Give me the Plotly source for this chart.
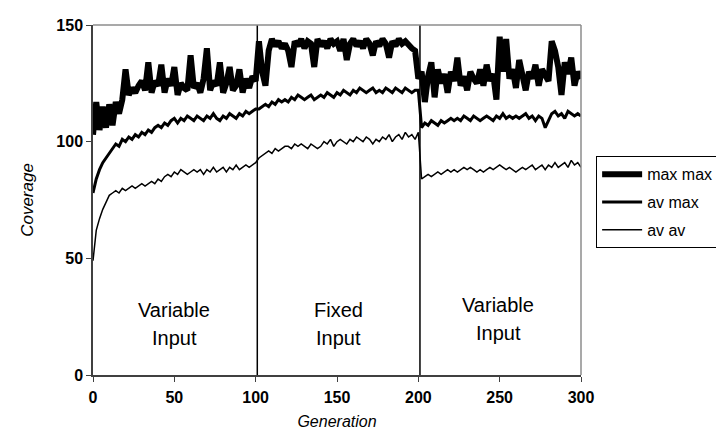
import plotly.graph_objects as go

generation = list(range(0, 301, 2))

max_max = [103, 117, 105, 115, 106, 116, 107, 117, 112, 118, 131,
           120, 123, 121, 124, 126, 122, 134, 121, 126, 124,
           133, 121, 127, 124, 132, 120, 125, 123, 122, 137,
           123, 125, 121, 127, 140, 122, 126, 124, 134, 121,
           125, 132, 122, 124, 131, 121, 127, 123, 128, 126,
           143, 130, 124, 139, 144, 141, 143, 140, 142, 139,
           132, 143, 141, 144, 140, 143, 142, 132, 144, 141,
           143, 140, 144, 142, 143, 139, 144, 135, 142, 144,
           141, 143, 140, 144, 142, 137, 143, 141, 144, 142,
           136, 143, 141, 144, 142, 143, 141, 140, 139, 127,
           130, 117, 128, 134, 119, 131, 125, 129, 121, 130,
           126, 136, 124, 128, 122, 130, 127, 125, 131, 124,
           133, 126, 129, 118, 145, 130, 144, 127, 131, 123,
           135, 129, 122, 130, 127, 133, 124, 131, 128, 126,
           143, 139, 132, 120, 134, 129, 136, 124, 130, 127]

av_max = [78, 84, 88, 91, 93, 95, 97, 99, 98, 101, 100,
          102, 101, 103, 102, 104, 103, 105, 104, 106, 107,
          106, 108, 107, 109, 110, 108, 110, 109, 111, 110,
          109, 111, 110, 109, 111, 110, 112, 110, 109, 111,
          110, 112, 111, 110, 112, 111, 113, 112, 113, 114,
          114, 115, 116, 115, 117, 116, 118, 117, 118, 117,
          119, 118, 120, 119, 118, 119, 120, 118, 119, 120,
          119, 121, 120, 119, 121, 120, 122, 121, 120, 122,
          121, 123, 122, 121, 122, 123, 121, 122, 121, 123,
          122, 121, 123, 122, 121, 123, 122, 121, 122, 122,
          106, 108, 107, 109, 108, 107, 109, 108, 109, 110,
          109, 110, 109, 111, 110, 109, 111, 110, 109, 110,
          111, 110, 109, 111, 110, 112, 110, 111, 110, 111,
          110, 111, 112, 110, 111, 109, 111, 110, 106, 109,
          112, 113, 111, 112, 110, 113, 112, 111, 112, 111]

av_av = [49, 62, 67, 71, 74, 77, 78, 79, 78, 80, 79,
         80, 81, 80, 81, 82, 81, 82, 83, 82, 84,
         83, 85, 86, 85, 87, 86, 88, 87, 86, 87,
         88, 87, 88, 86, 88, 87, 89, 87, 88, 89,
         87, 89, 88, 90, 88, 89, 90, 89, 90, 91,
         93, 94, 95, 96, 95, 97, 96, 97, 98, 98,
         97, 99, 98, 99, 98, 97, 99, 98, 97, 98,
         100, 99, 101, 98, 100, 101, 100, 99, 101, 100,
         102, 101, 100, 102, 101, 99, 101, 100, 102, 101,
         103, 100, 102, 103, 101, 104, 102, 103, 101, 104,
         84, 85, 86, 85, 86, 87, 86, 87, 88, 87,
         88, 87, 88, 89, 88, 89, 88, 87, 88, 87,
         88, 89, 88, 89, 90, 89, 88, 89, 88, 87,
         88, 89, 88, 89, 90, 88, 89, 90, 88, 90,
         89, 91, 89, 90, 91, 89, 92, 90, 91, 89]

phase_boundaries = [101, 201]
phase_labels = [(50, "Variable", "Input"), (151, "Fixed", "Input"), (249, "Variable", "Input")]
x_ticks = [0, 50, 100, 150, 200, 250, 300]
y_ticks = [0, 50, 100, 150]

FONT = "Liberation Sans, Arial, sans-serif"

fig = go.Figure()
fig.add_trace(go.Scatter(x=generation, y=max_max, mode="lines", name="max max",
                         line=dict(color="black", width=6), legendgroup="a"))
fig.add_trace(go.Scatter(x=generation, y=av_max, mode="lines", name="av max",
                         line=dict(color="black", width=3), legendgroup="b"))
fig.add_trace(go.Scatter(x=generation, y=av_av, mode="lines", name="av av",
                         line=dict(color="black", width=1.5), legendgroup="c"))

for b in phase_boundaries:
    fig.add_shape(type="line", x0=b, x1=b, y0=0, y1=150, xref="x", yref="y",
                  line=dict(color="black", width=1.5))

# top and right frame
fig.add_shape(type="line", x0=0, x1=1, y0=1, y1=1, xref="paper", yref="paper",
              line=dict(color="#8c8c8c", width=1.5))
fig.add_shape(type="line", x0=1, x1=1, y0=0, y1=1, xref="paper", yref="paper",
              line=dict(color="#8c8c8c", width=1.5))

for i, (gx, l1, l2) in enumerate(phase_labels):
    yoff = 2 if i == 2 else 0
    fig.add_annotation(x=gx, y=28 + yoff, text=l1, showarrow=False, xref="x", yref="y",
                       font=dict(family=FONT, size=20, color="black"))
    fig.add_annotation(x=gx, y=16 + yoff, text=l2, showarrow=False, xref="x", yref="y",
                       font=dict(family=FONT, size=20, color="black"))

fig.update_layout(
    width=724, height=430,
    margin=dict(l=85, r=151, t=17, b=63, autoexpand=False),
    paper_bgcolor="white", plot_bgcolor="white",
    font=dict(family=FONT, color="black"),
    legend=dict(x=1.031, y=0.625, xanchor="left", yanchor="top",
                bordercolor="black", borderwidth=1, bgcolor="white",
                font=dict(family=FONT, size=16, color="black"),
                tracegroupgap=4, itemwidth=40),
    xaxis=dict(range=[0, 300], tickvals=x_ticks, showgrid=False, zeroline=False,
               showline=True, linecolor="#404040", linewidth=1.5, automargin=False,
               ticks="outside", ticklen=5, tickcolor="#404040", ticklabelstandoff=2,
               tickfont=dict(family=FONT, size=16, weight="bold", color="black"),
               title=dict(text="<i>Generation</i>", font=dict(family=FONT, size=16), standoff=11)),
    yaxis=dict(range=[0, 150], tickvals=y_ticks, showgrid=False, zeroline=False,
               showline=True, linecolor="#404040", linewidth=1.5, automargin=False,
               ticks="outside", ticklen=5, tickcolor="#404040",
               tickfont=dict(family=FONT, size=16, weight="bold", color="black"),
               title=dict(text="<i>Coverage</i>", font=dict(family=FONT, size=17), standoff=18)),
)

fig.write_html("out.html")
